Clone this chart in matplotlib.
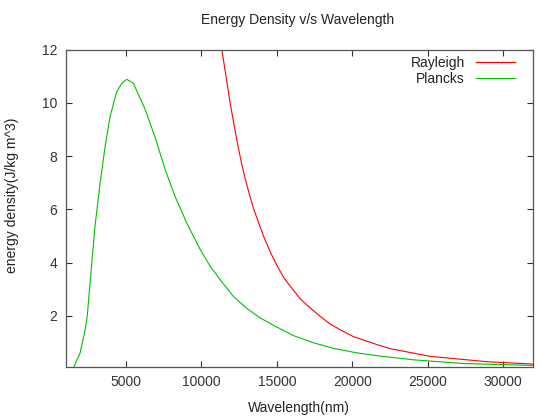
import matplotlib
matplotlib.use("Agg")
import matplotlib.pyplot as plt

plt.rcParams['font.family'] = ['Liberation Sans', 'DejaVu Sans']

# values (wavelength in nm, energy density)
planck_wl = [1550, 1950, 2280, 2430, 2610, 2940, 3280, 3610, 3940, 4380, 4720,
             5050, 5490, 6260, 6930, 7590, 8250, 9030, 9910, 10580, 11240,
             12120, 13010, 13900, 15000, 16100, 17430, 18760, 20310, 21860,
             24070, 27390, 32000]
planck_e = [0.1, 0.6, 1.45, 2.0, 3.2, 5.36, 6.98, 8.35, 9.48, 10.41, 10.73,
            10.88, 10.73, 9.76, 8.7, 7.5, 6.48, 5.48, 4.5, 3.86, 3.36,
            2.73, 2.28, 1.92, 1.58, 1.26, 0.99, 0.78, 0.61, 0.49,
            0.35, 0.21, 0.14]

rayleigh_wl = [11350, 11680, 11900, 12230, 12520, 12790, 13120, 13450, 14110,
               14560, 15000, 15440, 15880, 16550, 17210, 17870, 18540, 19200,
               20080, 21860, 22520, 25180, 28940, 32000]
rayleigh_e = [12.0, 10.8, 10.0, 8.95, 8.1, 7.4, 6.68, 6.03, 5.0,
              4.4, 3.9, 3.45, 3.12, 2.64, 2.3, 1.98, 1.69, 1.48,
              1.22, 0.88, 0.77, 0.48, 0.28, 0.19]

x_ticks = [5000, 10000, 15000, 20000, 25000, 30000]
y_ticks = [2, 4, 6, 8, 10, 12]

fig = plt.figure(figsize=(5.6, 4.2), dpi=100)
ax = fig.add_axes([65.7 / 560, 1 - 366.5 / 420, (533.3 - 65.7) / 560, (366.5 - 49.5) / 420])

ax.plot(rayleigh_wl, rayleigh_e, color='#ff0000', lw=0.8, label='Rayleigh')
ax.plot(planck_wl, planck_e, color='#00c000', lw=0.8, label='Plancks')

ax.set_xlim(1000, 32000)
ax.set_ylim(0.1, 12)
ax.set_xticks(x_ticks)
ax.set_yticks(y_ticks)
ax.tick_params(direction='in', length=4, width=0.8, color='#333333',
               top=True, right=True, labelsize=10, labelcolor='#333333', pad=6)
for s in ax.spines.values():
    s.set_color('#555555')
    s.set_linewidth(0.9)

fig.text(298 / 560, 1 - 20 / 420, 'Energy Density v/s Wavelength', ha='center', va='center',
         fontsize=10, color='#222222')
fig.text(299 / 560, 1 - 408 / 420, 'Wavelength(nm)', ha='center', va='center',
         fontsize=10, color='#222222')
fig.text(12 / 560, 1 - 195 / 420, 'energy density(J/kg m^3)', ha='center', va='center',
         rotation=90, fontsize=10, color='#222222')

leg = ax.legend(loc='upper right', markerfirst=False, frameon=False, fontsize=10,
                handlelength=2.8, handletextpad=0.8, labelspacing=0.15,
                bbox_to_anchor=(0.987, 1.02))
for t in leg.get_texts():
    t.set_ha('right')
    t.set_color('#222222')

fig.savefig('out.png', dpi=100)
